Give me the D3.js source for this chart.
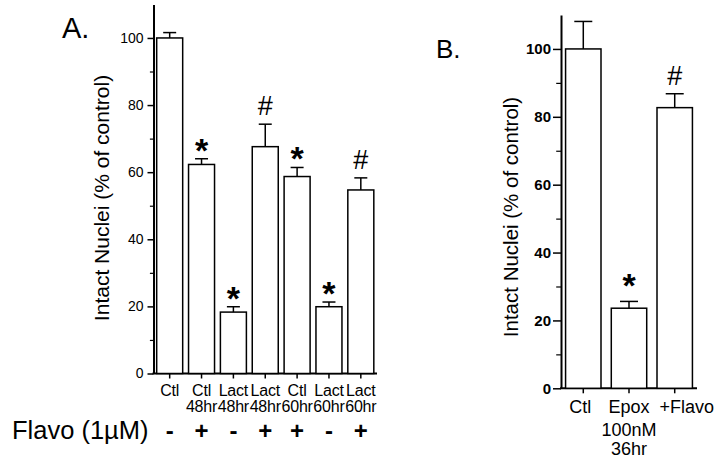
<!DOCTYPE html>
<html><head><meta charset="utf-8">
<script src="https://cdn.jsdelivr.net/npm/d3@7"></script>
<style>body{margin:0;background:#fff}svg{display:block}text{font-family:"Liberation Sans",Arial,Helvetica,sans-serif;fill:#000}</style>
</head><body>
<svg id="c" width="720" height="461"></svg>
<script>
// Panel A data
const catsA = ["a1","a2","a3","a4","a5","a6","a7"];
const labelsA1 = ["Ctl","Ctl","Lact","Lact","Ctl","Lact","Lact"];
const labelsA2 = ["","48hr","48hr","48hr","60hr","60hr","60hr"];
const valuesA = [100, 62.3, 18.3, 67.6, 58.7, 19.9, 54.7];
const errA = [1.6, 1.7, 1.6, 6.7, 2.7, 1.4, 3.6];
const markA = ["", "*", "*", "#", "*", "*", "#"];
const flavoA = ["-", "+", "-", "+", "+", "-", "+"];
// Panel B data
const catsB = ["b1","b2","b3"];
const labelsB1 = ["Ctl","Epox","+Flavo"];
const labelsB2 = ["","100nM",""];
const labelsB3 = ["","36hr",""];
const valuesB = [100, 23.6, 82.7];
const errB = [8.1, 2.0, 4.1];
const markB = ["", "*", "#"];
const majorTicks = [0,20,40,60,80,100];
const minorTicks = [10,30,50,70,90];

const svg = d3.select("#c");

function panel(o){
  const g = svg.append("g");
  const y = d3.scaleLinear().domain([0,110]).range([o.y0, o.y1]);
  const x = d3.scaleBand().domain(o.cats).range([o.x0, o.x1]).paddingInner(o.pi).paddingOuter(o.po);
  const ya = g.append("g").attr("transform",`translate(${o.x0},0)`)
    .call(d3.axisLeft(y).tickValues(majorTicks).tickSize(o.tick).tickPadding(o.tpad).tickSizeOuter(0));
  ya.select(".domain").attr("stroke-width",2);
  ya.selectAll(".tick line").attr("stroke-width",1.5);
  ya.selectAll("text").style("font-size",o.tfs+"px").style("font-weight",o.tfw).attr("fill","#000");
  const ym = g.append("g").attr("transform",`translate(${o.x0},0)`)
    .call(d3.axisLeft(y).tickValues(minorTicks).tickSize(o.tick*0.6).tickFormat("").tickSizeOuter(0));
  ym.select(".domain").remove();
  ym.selectAll(".tick line").attr("stroke-width",1.2);
  const xa = g.append("g").attr("transform",`translate(0,${o.y0})`)
    .call(d3.axisBottom(x).tickSize(5).tickFormat("").tickSizeOuter(0));
  xa.select(".domain").attr("stroke-width",2).attr("d",`M${o.x0-1},0H${o.x1}`);
  xa.selectAll(".tick line").attr("stroke-width",1.5);
  g.selectAll("rect.bar").data(o.vals).join("rect")
    .attr("x",(d,i)=>x(o.cats[i])).attr("width",x.bandwidth())
    .attr("y",d=>y(d)).attr("height",d=>y(0)-y(d))
    .attr("fill","#fff").attr("stroke","#000").attr("stroke-width",1.5);
  o.vals.forEach((v,i)=>{
    const cx = x(o.cats[i]) + x.bandwidth()/2;
    const et = y(v+o.errs[i]);
    g.append("line").attr("x1",cx).attr("x2",cx).attr("y1",y(v)).attr("y2",et).attr("stroke","#000").attr("stroke-width",1.5);
    g.append("line").attr("x1",cx-o.cap/2).attr("x2",cx+o.cap/2).attr("y1",et).attr("y2",et).attr("stroke","#000").attr("stroke-width",1.5);
    const m = o.marks[i];
    if(m==="*"){
      g.append("text").attr("x",cx).attr("y",et+o.starDy).attr("text-anchor","middle")
        .style("font-size","34px").style("font-weight","bold").text("*");
    } else if(m==="#"){
      g.append("text").attr("x",cx).attr("y",et-o.hashDy).attr("text-anchor","middle")
        .style("font-size","27px").text("#");
    }
  });
  o.lines.forEach((arr,k)=>{
    g.selectAll(null).data(arr).join("text")
      .attr("x",(d,i)=>x(o.cats[i])+x.bandwidth()/2 + (o.shift?o.shift(i):0)).attr("y",o.lblY[k])
      .attr("text-anchor","middle").style("font-size",o.lfs+"px").style("letter-spacing",o.ls||"0px").text(d=>d);
  });
  g.append("text").attr("transform",`translate(${o.ylx},${o.yly}) rotate(-90)`)
    .attr("text-anchor","middle").style("font-size",o.yfs+"px").text("Intact Nuclei (% of control)");
  return {x,y};
}

const A = panel({cats:catsA, vals:valuesA, errs:errA, marks:markA, x0:153.5, x1:377, y0:373.5, y1:4.4,
  pi:0.184, po:0.1, tick:6, tpad:4, tfs:14, tfw:"normal", cap:13, starDy:3, hashDy:9,
  lines:[labelsA1,labelsA2], lblY:[396,412], lfs:16, ls:"-0.2px", ylx:109, yly:198, yfs:21});
const B = panel({cats:catsB, vals:valuesB, errs:errB, marks:markB, x0:561, x1:697, y0:388.3, y1:15,
  pi:0.225, po:0.1, tick:8, tpad:2, tfs:15, tfw:"bold", cap:18, starDy:-4, hashDy:9,
  shift:i=>(i===2?12:(i===0?-3:0)),
  lines:[labelsB1,labelsB2,labelsB3], lblY:[413,436,455], lfs:18, ylx:518, yly:217, yfs:20.5});

svg.append("text").attr("x",12).attr("y",439).style("font-size","25.5px").text("Flavo (1\u00B5M)");
svg.selectAll("text.fl").data(flavoA).join("text").attr("class","fl")
  .attr("x",(d,i)=>A.x(catsA[i])+A.x.bandwidth()/2).attr("y",439)
  .attr("text-anchor","middle").style("font-size","24px").style("font-weight","bold").text(d=>d);

svg.append("text").attr("x",62).attr("y",38).style("font-size","29px").text("A.");
svg.append("text").attr("x",436).attr("y",58).style("font-size","26px").text("B.");
</script>
</body></html>
